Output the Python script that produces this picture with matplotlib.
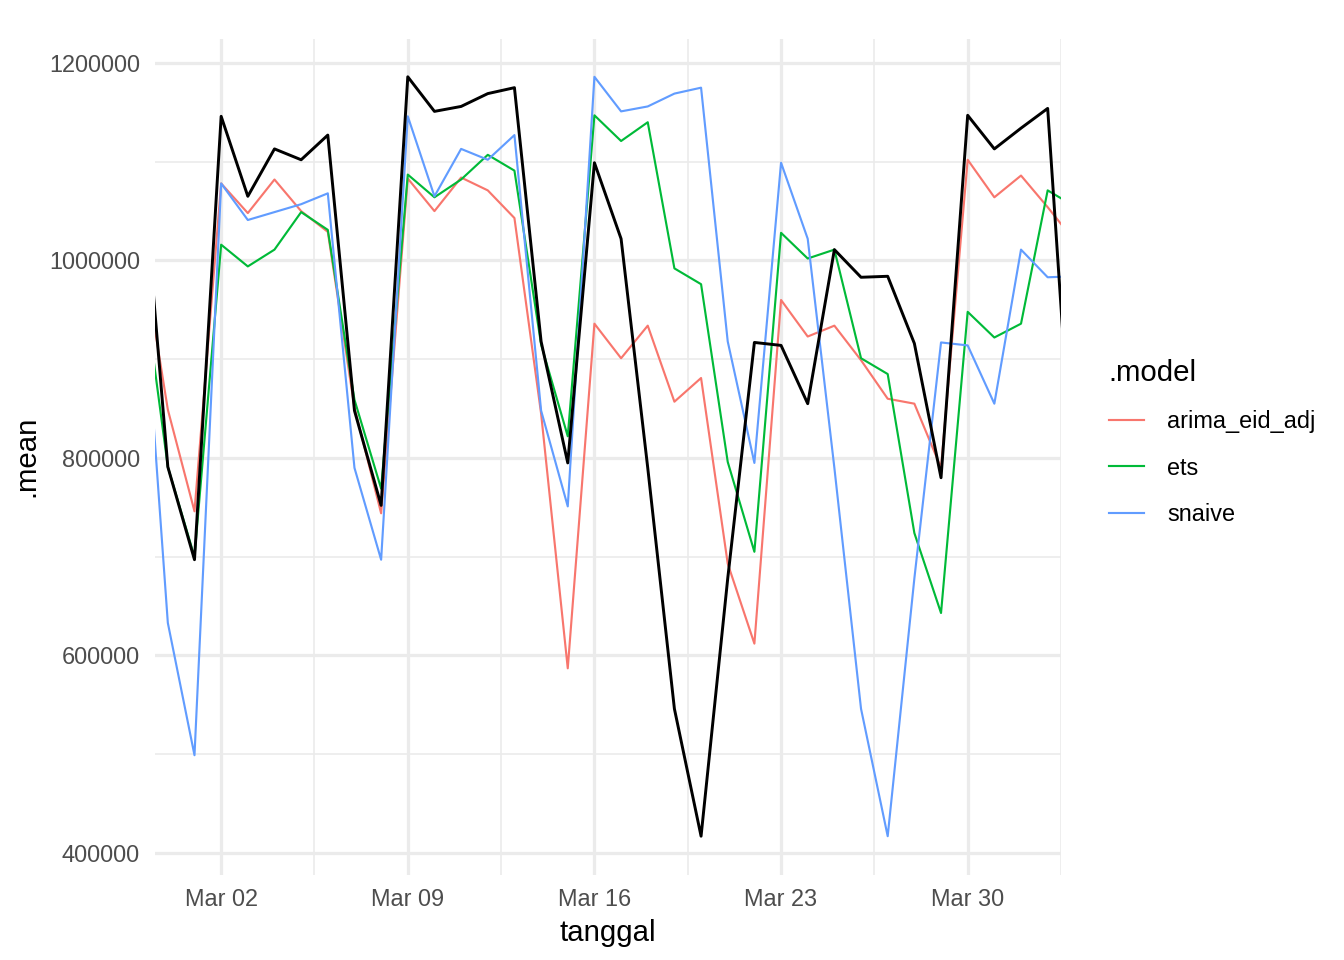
import numpy as np
import pandas as pd
import matplotlib
matplotlib.use("Agg")
import matplotlib.pyplot as plt
import matplotlib.dates as mdates
from matplotlib.ticker import FixedLocator, FuncFormatter

# daily values, Feb 27 .. Apr 03 (first/last day are cut by the x limits)
tanggal = pd.date_range("2025-02-27", "2025-04-03", freq="D")

actual = [1115000, 791000, 697000, 1146000, 1065000, 1113000, 1102000, 1127000,
          848000, 752000, 1186000, 1151000, 1156000, 1169000, 1175000, 918000,
          795000, 1099000, 1022000, 790000, 546000, 417000, 678000, 917000,
          914000, 855000, 1011000, 983000, 984000, 916000, 780000, 1147000,
          1113000, 1134000, 1154000, 752000]

arima_eid_adj = [1017000, 849000, 746000, 1078000, 1048000, 1082000, 1050000, 1029000,
                 851000, 744000, 1083000, 1050000, 1084000, 1071000, 1043000, 845000,
                 587000, 936000, 901000, 934000, 857000, 881000, 693000, 612000,
                 960000, 923000, 934000, 899000, 860000, 855000, 790000, 1102000,
                 1064000, 1086000, 1054000, 1020000]

ets = [994000, 791000, 700000, 1016000, 994000, 1011000, 1049000, 1031000,
       859000, 769000, 1087000, 1064000, 1082000, 1107000, 1091000, 915000,
       822000, 1147000, 1121000, 1140000, 992000, 976000, 796000, 705000,
       1028000, 1002000, 1011000, 901000, 885000, 724000, 643000, 948000,
       922000, 936000, 1071000, 1055000]

snaive = [1011000, 633000, 499000, 1078000, 1041000, 1049000, 1057000, 1068000,
          790000, 697000, 1146000, 1065000, 1113000, 1102000, 1127000, 848000,
          751000, 1186000, 1151000, 1156000, 1169000, 1175000, 918000, 795000,
          1099000, 1022000, 790000, 546000, 417000, 678000, 917000, 914000,
          855000, 1011000, 983000, 984000]

models = ["arima_eid_adj", "ets", "snaive"]
colors = ["#F8766D", "#00BA38", "#619CFF"]

plt.rcParams["font.family"] = ["Liberation Sans", "DejaVu Sans"]

W, H = 1344, 960
fig = plt.figure(figsize=(7, 5), dpi=192)
ax = fig.add_axes([154.5 / W, 1 - 874.7 / H, (1061 - 154.5) / W, (874.7 - 38.7) / H])

for name, vals, col in zip(models, [arima_eid_adj, ets, snaive], colors):
    ax.plot(tanggal, vals, color=col, lw=0.8, label=name)
ax.plot(tanggal, actual, color="black", lw=1.1)

ax.set_xlim(pd.Timestamp("2025-02-27 12:00"), pd.Timestamp("2025-04-02 12:00"))
ax.set_ylim(378000, 1224600)

# grid like theme_minimal
major_x = mdates.date2num(pd.date_range("2025-03-02", periods=5, freq="7D"))
minor_x = np.append(major_x[0] - 3.5, major_x + 3.5)
ax.xaxis.set_major_locator(FixedLocator(major_x))
ax.xaxis.set_minor_locator(FixedLocator(minor_x))
ax.xaxis.set_major_formatter(mdates.DateFormatter("%b %d"))
ax.yaxis.set_major_locator(FixedLocator([400000, 600000, 800000, 1000000, 1200000]))
ax.yaxis.set_minor_locator(FixedLocator([500000, 700000, 900000, 1100000]))
ax.yaxis.set_major_formatter(FuncFormatter(lambda v, p: f"{v:.0f}"))

ax.grid(which="major", color="#EBEBEB", lw=1.2)
ax.grid(which="minor", color="#EBEBEB", lw=0.6)
ax.set_axisbelow(True)
for s in ax.spines.values():
    s.set_visible(False)
ax.tick_params(which="both", length=0)
ax.tick_params(axis="both", labelsize=8.8, labelcolor="#4D4D4D")
ax.tick_params(axis="x", pad=5)
ax.tick_params(axis="y", pad=5.5)

ax.set_xlabel("tanggal", fontsize=11, labelpad=3)
ax.set_ylabel(".mean", fontsize=11, labelpad=3)

leg = fig.legend(title=".model", loc="upper left", bbox_to_anchor=(1097 / W, 1 - 347 / H),
                 frameon=False, fontsize=8.8, title_fontsize=11, handlelength=1.5,
                 handletextpad=1.0, labelspacing=1.0, borderpad=0, alignment="left")

fig.savefig("out.png", dpi=192)
